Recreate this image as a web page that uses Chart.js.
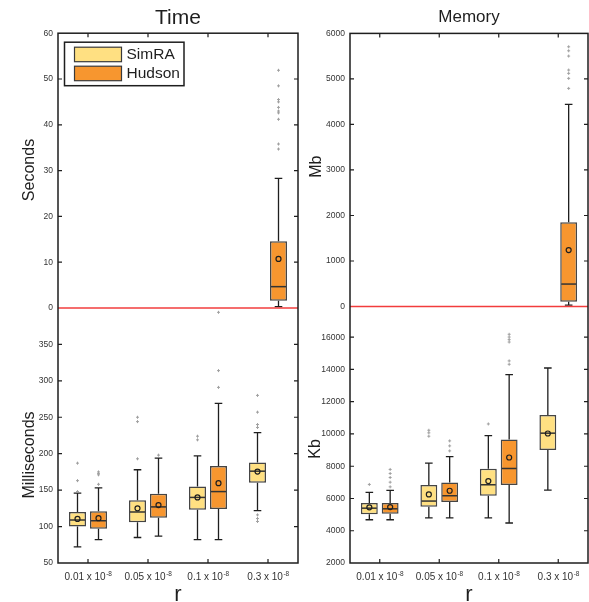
<!DOCTYPE html>
<html>
<head>
<meta charset="utf-8">
<script src="https://cdn.jsdelivr.net/npm/chart.js@4.4.1/dist/chart.umd.min.js"></script>
<style>
html,body{margin:0;padding:0;background:#fff;}
#wrap{position:relative;width:589px;height:602px;overflow:hidden;}
canvas{position:absolute;top:0;}
#c1{left:0;}
#c2{left:300px;}
</style>
</head>
<body>
<div id="wrap">
<canvas id="c1" width="300" height="602"></canvas>
<canvas id="c2" width="289" height="602"></canvas>
</div>
<script>
// ---------------- DATA ----------------
const categories = ['0.01', '0.05', '0.1', '0.3'];
const tickMantissas = ['0.01 x 10', '0.05 x 10', '0.1 x 10', '0.3 x 10'];
const tickExponent = '-8';
const seriesNames = ['SimRA', 'Hudson'];

// Time, lower panel (milliseconds)
const simraMsMin  = [72, 85, 82, 122];
const simraMsQ1   = [100, 106, 123, 160];
const simraMsMed  = [109, 120, 140, 176];
const simraMsQ3   = [120, 136, 155, 188];
const simraMsMax  = [146, 178, 197, 229];
const simraMsMean = [110.5, 125, 140, 175.5];
const simraMsOut  = [[148, 163, 187], [193, 244, 250], [219, 224], [107, 111, 116, 236, 240, 257, 280]];

const hudsonMsMin  = [82, 87, 82, null];
const hudsonMsQ1   = [97, 112, 124, null];
const hudsonMsMed  = [108, 127, 148, null];
const hudsonMsQ3   = [121, 145, 183, null];
const hudsonMsMax  = [153, 194, 269, null];
const hudsonMsMean = [111.5, 129.5, 159.5, null];
const hudsonMsOut  = [[158, 171, 173, 175], [198], [291, 314, 394], []];

// Time, upper panel (seconds)
const hudsonSecMin  = [null, null, null, 0.3];
const hudsonSecQ1   = [null, null, null, 1.6];
const hudsonSecMed  = [null, null, null, 4.65];
const hudsonSecQ3   = [null, null, null, 14.55];
const hudsonSecMax  = [null, null, null, 28.3];
const hudsonSecMean = [null, null, null, 10.7];
const hudsonSecOut  = [[], [], [], [34.7, 35.8, 41.2, 42.6, 43.0, 43.8, 45.0, 45.5, 48.5, 51.9]];

// Memory, lower panel (Kb)
const simraKbMin  = [4680, 4800, 4800, 6520];
const simraKbQ1   = [5030, 5485, 6170, 9000];
const simraKbMed  = [5400, 5840, 6850, 10050];
const simraKbQ3   = [5715, 6830, 7840, 11180];
const simraKbMax  = [6380, 8190, 9900, 14090];
const simraKbMean = [5450, 6250, 7080, 10030];
const simraKbOut  = [[6870], [9860, 10070, 10230], [10620], []];

const hudsonKbMin  = [4680, 4800, 4480, null];
const hudsonKbQ1   = [5050, 5780, 6830, null];
const hudsonKbMed  = [5360, 6170, 7860, null];
const hudsonKbQ3   = [5715, 6990, 9660, null];
const hudsonKbMax  = [6500, 8600, 13680, null];
const hudsonKbMean = [5470, 6480, 8540, null];
const hudsonKbOut  = [[6720, 7010, 7300, 7550, 7800], [8950, 9260, 9570], [14320, 14530, 15700, 15850, 16010, 16180], []];

// Memory, upper panel (Mb)
const hudsonMbMin  = [null, null, null, 33];
const hudsonMbQ1   = [null, null, null, 105];
const hudsonMbMed  = [null, null, null, 494];
const hudsonMbQ3   = [null, null, null, 1849];
const hudsonMbMax  = [null, null, null, 4441];
const hudsonMbMean = [null, null, null, 1241];
const hudsonMbOut  = [[], [], [], [4792, 5012, 5122, 5195, 5502, 5618, 5706]];

// axis ranges and tick values
const secRange = [0, 60];
const msRange  = [50, 400];
const mbRange  = [0, 6000];
const kbRange  = [2000, 17900];
const secTicks = [0, 10, 20, 30, 40, 50, 60];
const msTicks  = [50, 100, 150, 200, 250, 300, 350];
const mbTicks  = [0, 1000, 2000, 3000, 4000, 5000, 6000];
const kbTicks  = [2000, 4000, 6000, 8000, 10000, 12000, 14000, 16000];

// ---------------- STYLE ----------------
const FONT = "'Liberation Sans', Arial, Helvetica, sans-serif";
const SIMRA_COLOR = '#FFE082';
const HUDSON_COLOR = '#F7962F';
const BOX_EDGE = '#454545';
const INK = '#1e1e1e';

function st(min, q1, med, q3, max, mean, out) { return {min, q1, med, q3, max, mean, out}; }

function boxSet(label, color, stack, yAxisID, s) {
  return {
    label, stack, yAxisID, stats: s,
    data: s.q1.map((v, i) => v == null ? null : [v, s.q3[i]]),
    backgroundColor: color, borderColor: BOX_EDGE, borderWidth: 1.5, borderSkipped: false,
    categoryPercentage: 0.7, barPercentage: 0.81
  };
}

const boxExtras = {
  id: 'boxExtras',
  afterDatasetsDraw(chart) {
    const ctx = chart.ctx;
    chart.data.datasets.forEach((ds, di) => {
      const meta = chart.getDatasetMeta(di);
      const ys = chart.scales[ds.yAxisID];
      const s = ds.stats;
      meta.data.forEach((bar, i) => {
        if (s.med[i] == null) return;
        const x = bar.x, w = bar.width;
        const py = v => ys.getPixelForValue(v);
        const cap = 3.8;
        ctx.save();
        ctx.strokeStyle = INK; ctx.lineWidth = 1.3;
        ctx.beginPath();
        ctx.moveTo(x, py(s.q3[i])); ctx.lineTo(x, py(s.max[i]));
        ctx.moveTo(x - cap, py(s.max[i])); ctx.lineTo(x + cap, py(s.max[i]));
        ctx.moveTo(x, py(s.q1[i])); ctx.lineTo(x, py(s.min[i]));
        ctx.moveTo(x - cap, py(s.min[i])); ctx.lineTo(x + cap, py(s.min[i]));
        ctx.stroke();
        ctx.strokeStyle = '#333'; ctx.lineWidth = 1.5;
        ctx.beginPath();
        ctx.moveTo(x - w / 2 + 1, py(s.med[i])); ctx.lineTo(x + w / 2 - 1, py(s.med[i]));
        ctx.stroke();
        ctx.strokeStyle = INK; ctx.lineWidth = 1.2;
        ctx.beginPath(); ctx.arc(x, py(s.mean[i]), 2.5, 0, Math.PI * 2); ctx.stroke();
        ctx.strokeStyle = '#a0a0a0'; ctx.lineWidth = 1;
        s.out[i].forEach(v => {
          const y = py(v);
          ctx.beginPath();
          ctx.moveTo(x - 1.5, y); ctx.lineTo(x + 1.5, y);
          ctx.moveTo(x, y - 1.5); ctx.lineTo(x, y + 1.5);
          ctx.stroke();
        });
        ctx.restore();
      });
    });
  },
  afterDraw(chart) {
    const ctx = chart.ctx, a = chart.chartArea, o = chart.options.plugins.boxExtras;
    ctx.save();
    // red break line
    const yz = chart.scales.yHigh.getPixelForValue(0);
    ctx.strokeStyle = '#f23c3c'; ctx.lineWidth = 1.5;
    ctx.beginPath(); ctx.moveTo(a.left, yz); ctx.lineTo(a.right, yz); ctx.stroke();
    // frame
    ctx.strokeStyle = INK; ctx.lineWidth = 1.5;
    ctx.strokeRect(a.left, a.top, a.right - a.left, a.bottom - a.top);
    // inward ticks
    ctx.lineWidth = 1.2;
    ctx.beginPath();
    ['yHigh', 'yLow'].forEach(id => {
      const sc = chart.scales[id];
      sc.ticks.forEach(t => {
        const y = sc.getPixelForValue(t.value);
        if (Math.abs(y - a.top) < 1 || Math.abs(y - a.bottom) < 1 || Math.abs(y - yz) < 1) return;
        ctx.moveTo(a.left, y); ctx.lineTo(a.left + 4, y);
        ctx.moveTo(a.right - 4, y); ctx.lineTo(a.right, y);
      });
    });
    const xs = chart.scales.x;
    categories.forEach((c, i) => {
      const x = xs.getPixelForValue(i);
      ctx.moveTo(x, a.top); ctx.lineTo(x, a.top + 4);
      ctx.moveTo(x, a.bottom - 4); ctx.lineTo(x, a.bottom);
    });
    ctx.stroke();
    // x tick labels with superscript
    ctx.fillStyle = '#333';
    ctx.textBaseline = 'alphabetic'; ctx.textAlign = 'left';
    categories.forEach((c, i) => {
      const x = xs.getPixelForValue(i);
      ctx.font = '10px ' + FONT;
      const w1 = ctx.measureText(tickMantissas[i]).width;
      ctx.font = '6.5px ' + FONT;
      const w2 = ctx.measureText(tickExponent).width;
      const x0 = x - (w1 + w2) / 2;
      ctx.font = '10px ' + FONT;
      ctx.fillText(tickMantissas[i], x0, a.bottom + 17);
      ctx.font = '6.5px ' + FONT;
      ctx.fillText(tickExponent, x0 + w1 + 0.5, a.bottom + 12.5);
    });
    // x title
    ctx.fillStyle = INK; ctx.textAlign = 'center';
    ctx.font = '22px ' + FONT;
    ctx.fillText('r', (a.left + a.right) / 2, a.bottom + 37.5);
    // y titles
    ctx.font = '16px ' + FONT;
    o.yTitles.forEach(t => {
      ctx.save();
      ctx.translate(t.x, t.y);
      ctx.rotate(-Math.PI / 2);
      ctx.textAlign = 'center'; ctx.textBaseline = 'alphabetic';
      ctx.fillText(t.text, 0, 0);
      ctx.restore();
    });
    // legend
    if (o.legend) {
      const lx = a.left + 6.5, ly = a.top + 9;
      ctx.strokeStyle = INK; ctx.lineWidth = 1.5;
      ctx.fillStyle = '#fff';
      ctx.fillRect(lx, ly, 119.5, 43.5);
      ctx.strokeRect(lx, ly, 119.5, 43.5);
      [SIMRA_COLOR, HUDSON_COLOR].forEach((col, k) => {
        const sy = ly + 5 + k * 19;
        ctx.fillStyle = col;
        ctx.fillRect(lx + 10, sy, 47, 14.5);
        ctx.strokeStyle = '#3a3a3a'; ctx.lineWidth = 1.2;
        ctx.strokeRect(lx + 10, sy, 47, 14.5);
        ctx.fillStyle = INK;
        ctx.font = '15.5px ' + FONT;
        ctx.textAlign = 'left'; ctx.textBaseline = 'middle';
        ctx.fillText(seriesNames[k], lx + 62, sy + 7.5);
      });
    }
    ctx.restore();
  }
};

function makeChart(cfg) {
  const yBase = (range, tickVals, weight) => ({
    type: 'linear', position: 'left', stack: 'col', stackWeight: weight, stacked: false,
    min: range[0], max: range[1],
    grid: {display: false, drawTicks: false}, border: {display: false},
    ticks: {padding: 5, color: '#333', font: {size: 8.5, family: FONT}, autoSkip: false,
            callback: v => String(v)},
    afterBuildTicks: s => { s.ticks = tickVals.map(v => ({value: v})); },
    afterFit: s => { s.width = cfg.yWidth; }
  });
  return new Chart(document.getElementById(cfg.canvas), {
    type: 'bar',
    data: {
      labels: categories,
      datasets: [
        boxSet(seriesNames[0], SIMRA_COLOR, 'S', 'yLow', cfg.simraLow),
        boxSet(seriesNames[1], HUDSON_COLOR, 'H', 'yLow', cfg.hudsonLow),
        boxSet(seriesNames[1], HUDSON_COLOR, 'H', 'yHigh', cfg.hudsonHigh)
      ]
    },
    options: {
      responsive: false, animation: false, devicePixelRatio: 1,
      layout: {padding: {left: 0, right: cfg.padRight, top: 0, bottom: 0}},
      scales: {
        x: {
          type: 'category', offset: true,
          grid: {display: false, drawTicks: false}, border: {display: false},
          ticks: {display: false},
          afterFit: s => { s.height = 39; }
        },
        yLow: yBase(cfg.lowRange, cfg.lowTicks, cfg.lowWeight),
        yHigh: yBase(cfg.highRange, cfg.highTicks, cfg.highWeight)
      },
      plugins: {
        legend: {display: false},
        tooltip: {enabled: false},
        title: {
          display: true, text: cfg.title, fullSize: false, color: INK,
          font: {size: cfg.titleSize, family: FONT, weight: 'normal'},
          padding: {top: cfg.titlePadTop, bottom: cfg.titlePadBottom}
        },
        boxExtras: {yTitles: cfg.yTitles, legend: cfg.legend}
      }
    },
    plugins: [boxExtras]
  });
}

makeChart({
  canvas: 'c1', title: 'Time', titleSize: 21, titlePadTop: 5.5, titlePadBottom: 2.5,
  yWidth: 58, padRight: 2,
  highRange: secRange, highTicks: secTicks, highWeight: 274.7,
  lowRange: msRange, lowTicks: msTicks, lowWeight: 255,
  simraLow: st(simraMsMin, simraMsQ1, simraMsMed, simraMsQ3, simraMsMax, simraMsMean, simraMsOut),
  hudsonLow: st(hudsonMsMin, hudsonMsQ1, hudsonMsMed, hudsonMsQ3, hudsonMsMax, hudsonMsMean, hudsonMsOut),
  hudsonHigh: st(hudsonSecMin, hudsonSecQ1, hudsonSecMed, hudsonSecQ3, hudsonSecMax, hudsonSecMean, hudsonSecOut),
  yTitles: [{text: 'Seconds', x: 34.3, y: 170}, {text: 'Milliseconds', x: 34.3, y: 455}],
  legend: true
});

makeChart({
  canvas: 'c2', title: 'Memory', titleSize: 17, titlePadTop: 7.5, titlePadBottom: 5.5,
  yWidth: 50, padRight: 1,
  highRange: mbRange, highTicks: mbTicks, highWeight: 273.2,
  lowRange: kbRange, lowTicks: kbTicks, lowWeight: 256.5,
  simraLow: st(simraKbMin, simraKbQ1, simraKbMed, simraKbQ3, simraKbMax, simraKbMean, simraKbOut),
  hudsonLow: st(hudsonKbMin, hudsonKbQ1, hudsonKbMed, hudsonKbQ3, hudsonKbMax, hudsonKbMean, hudsonKbOut),
  hudsonHigh: st(hudsonMbMin, hudsonMbQ1, hudsonMbMed, hudsonMbQ3, hudsonMbMax, hudsonMbMean, hudsonMbOut),
  yTitles: [{text: 'Mb', x: 20.7, y: 166.7}, {text: 'Kb', x: 19.5, y: 449}],
  legend: false
});
</script>
</body>
</html>
